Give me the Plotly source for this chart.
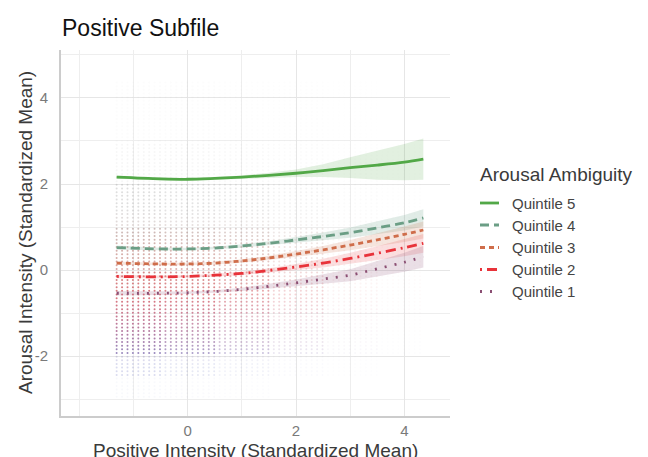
import numpy as np
import plotly.graph_objects as go

# ---------------------------------------------------------------------------
# Fitted curves: predicted arousal intensity by positive intensity,
# one curve per arousal-ambiguity quintile, with 95% CI half-widths.
# ---------------------------------------------------------------------------
fit_x = [-1.31, -0.5, 0.0, 0.5, 1.0, 1.5, 2.0, 2.5, 3.0, 3.5, 4.0, 4.35]

q5_fit = [2.16, 2.12, 2.11, 2.13, 2.16, 2.20, 2.25, 2.31, 2.38, 2.44, 2.51, 2.58]
q4_fit = [0.52, 0.49, 0.49, 0.51, 0.56, 0.62, 0.70, 0.78, 0.87, 0.98, 1.10, 1.21]
q3_fit = [0.16, 0.14, 0.14, 0.16, 0.21, 0.28, 0.37, 0.47, 0.58, 0.70, 0.83, 0.93]
q2_fit = [-0.15, -0.16, -0.15, -0.12, -0.08, -0.01, 0.07, 0.16, 0.27, 0.39, 0.52, 0.62]
q1_fit = [-0.54, -0.54, -0.53, -0.50, -0.45, -0.38, -0.30, -0.21, -0.12, 0.03, 0.18, 0.31]

q5_ci = [0.04, 0.03, 0.03, 0.03, 0.04, 0.06, 0.09, 0.15, 0.24, 0.34, 0.42, 0.48]
q4_ci = [0.05, 0.03, 0.03, 0.03, 0.04, 0.05, 0.07, 0.09, 0.12, 0.15, 0.18, 0.20]
q3_ci = [0.04, 0.03, 0.03, 0.03, 0.04, 0.05, 0.07, 0.09, 0.12, 0.15, 0.18, 0.20]
q2_ci = [0.04, 0.03, 0.03, 0.03, 0.04, 0.05, 0.07, 0.10, 0.13, 0.16, 0.20, 0.22]
q1_ci = [0.05, 0.04, 0.03, 0.03, 0.04, 0.06, 0.08, 0.11, 0.14, 0.18, 0.22, 0.25]

quintile_labels = ["Quintile 5", "Quintile 4", "Quintile 3", "Quintile 2", "Quintile 1"]
quintile_fits = [q5_fit, q4_fit, q3_fit, q2_fit, q1_fit]
quintile_cis = [q5_ci, q4_ci, q3_ci, q2_ci, q1_ci]
quintile_colors = ["#52a847", "#6b9e85", "#cf6d4a", "#e8333a", "#8b4f73"]
quintile_fills = ["rgba(82,168,71,0.17)", "rgba(107,158,133,0.20)",
                  "rgba(207,109,74,0.18)", "rgba(232,51,58,0.16)",
                  "rgba(139,79,115,0.18)"]
quintile_dashes = ["solid", "9px,5px", "5px,4px", "2px,5px,10px,5px", "2px,8px"]

# ---------------------------------------------------------------------------
# Raw observations: responses sit on a discrete lattice of scale values.
# Density (drawn as point opacity) per region of the lattice.
# ---------------------------------------------------------------------------
obs_x_levels = [round(-1.31 + 0.1 * i, 2) for i in range(57)]
obs_y_levels = [round(-2.95 + 0.085 * j, 3) for j in range(87)]

density_x_edges = [-1.5, -0.5, 0.5, 1.5, 2.5, 3.5, 4.5]
density_y_edges = [-3.0, -2.5, -2.0, -1.0, 0.0, 1.0, 2.0, 3.0, 4.5]
# rows: y bins from bottom to top; columns: x bins from left to right
density_alpha = [
    [0.04, 0.03, 0.02, 0.00, 0.00, 0.00],
    [0.22, 0.14, 0.08, 0.03, 0.01, 0.00],
    [0.68, 0.55, 0.34, 0.14, 0.04, 0.01],
    [0.68, 0.62, 0.46, 0.22, 0.06, 0.02],
    [0.52, 0.46, 0.36, 0.18, 0.05, 0.02],
    [0.30, 0.26, 0.20, 0.11, 0.04, 0.02],
    [0.08, 0.07, 0.06, 0.04, 0.02, 0.01],
    [0.03, 0.03, 0.02, 0.02, 0.01, 0.00],
]

# point hue varies with the response level
hue_stops_y = [-2.2, -1.4, -0.6, 0.4, 1.4]
hue_stops_rgb = [(80, 90, 180), (150, 60, 115), (205, 55, 65), (175, 100, 90), (145, 145, 145)]


def bin_index(v, edges):
    for k in range(len(edges) - 1):
        if edges[k] <= v < edges[k + 1]:
            return k
    return None


def hue_for(y):
    if y <= hue_stops_y[0]:
        return hue_stops_rgb[0]
    if y >= hue_stops_y[-1]:
        return hue_stops_rgb[-1]
    for k in range(len(hue_stops_y) - 1):
        if hue_stops_y[k] <= y <= hue_stops_y[k + 1]:
            t = (y - hue_stops_y[k]) / (hue_stops_y[k + 1] - hue_stops_y[k])
            a, b = hue_stops_rgb[k], hue_stops_rgb[k + 1]
            return tuple(int(round(a[c] + (b[c] - a[c]) * t)) for c in range(3))


pts_x, pts_y, pts_c = [], [], []
for xv in obs_x_levels:
    bx = bin_index(xv, density_x_edges)
    for yv in obs_y_levels:
        by = bin_index(yv, density_y_edges)
        if bx is None or by is None:
            continue
        alpha = density_alpha[by][bx]
        if alpha <= 0:
            continue
        r, g, b = hue_for(yv)
        pts_x.append(xv)
        pts_y.append(yv)
        pts_c.append(f"rgba({r},{g},{b},{alpha})")

fig = go.Figure()

fig.add_trace(go.Scatter(
    x=pts_x, y=pts_y, mode="markers",
    marker=dict(size=2, color=pts_c, line=dict(width=0)),
    hoverinfo="skip", showlegend=False,
))

# confidence ribbons
for fit, ci, fill in zip(quintile_fits, quintile_cis, quintile_fills):
    upper = [f + c for f, c in zip(fit, ci)]
    lower = [f - c for f, c in zip(fit, ci)]
    fig.add_trace(go.Scatter(
        x=fit_x + fit_x[::-1], y=upper + lower[::-1],
        fill="toself", fillcolor=fill, mode="lines",
        line=dict(width=0), hoverinfo="skip", showlegend=False,
    ))

# fitted lines
for name, fit, col, dash in zip(quintile_labels, quintile_fits, quintile_colors, quintile_dashes):
    fig.add_trace(go.Scatter(
        x=fit_x, y=fit, mode="lines", name=name,
        line=dict(color=col, width=2.8, dash=dash, shape="spline"),
        showlegend=False,
    ))

# ---------------------------------------------------------------------------
# Layout
# ---------------------------------------------------------------------------
W, H = 648, 457
ML, MR, MT, MB = 61, 198, 50, 41
PW, PH = W - ML - MR, H - MT - MB


def px_x(p):
    return (p - ML) / PW


def px_y(p):
    return (H - MB - p) / PH


FONT = "Liberation Sans, Arial, sans-serif"
GRID_MAJOR = "#e6e6e6"
GRID_MINOR = "#eeeeee"

fig.update_layout(
    width=W, height=H,
    margin=dict(l=ML, r=MR, t=MT, b=MB, pad=0),
    plot_bgcolor="white", paper_bgcolor="white",
    font=dict(family=FONT),
    showlegend=False,
    title=dict(text="Positive Subfile", x=62 / W, xanchor="left",
               y=1 - 28 / H, yanchor="middle",
               font=dict(size=23, color="#111111", family=FONT)),
    xaxis=dict(
        range=[-2.337, 4.842], tickvals=[0, 2, 4], ticktext=["0", "2", "4"],
        showgrid=True, gridcolor=GRID_MAJOR, gridwidth=1.2,
        minor=dict(tickvals=[-2, -1, 1, 3], showgrid=True, gridcolor=GRID_MINOR, gridwidth=1),
        zeroline=False, showline=True, linecolor="#cccccc", linewidth=1.6,
        ticks="", tickfont=dict(size=15, color="#7a7a7a"), ticklabelstandoff=0,
    ),
    yaxis=dict(
        range=[-3.395, 5.116], tickvals=[-2, 0, 2, 4], ticktext=["-2", "0", "2", "4"],
        showgrid=True, gridcolor=GRID_MAJOR, gridwidth=1.2,
        minor=dict(tickvals=[-3, -1, 1, 3, 5], showgrid=True, gridcolor=GRID_MINOR, gridwidth=1),
        zeroline=False, showline=True, linecolor="#cccccc", linewidth=1.6,
        ticks="", tickfont=dict(size=15, color="#7a7a7a"), ticklabelstandoff=8,
    ),
)

annotations = [
    dict(text="Positive Intensity (Standardized Mean)", xref="paper", yref="paper",
         x=0.5, y=px_y(450), xanchor="center", yanchor="middle", showarrow=False,
         font=dict(size=19, color="#3a3a3a", family=FONT)),
    dict(text="Arousal Intensity (Standardized Mean)", xref="paper", yref="paper",
         x=px_x(25), y=0.5, xanchor="center", yanchor="middle", textangle=-90,
         showarrow=False, font=dict(size=19, color="#3a3a3a", family=FONT)),
    dict(text="Arousal Ambiguity", xref="paper", yref="paper",
         x=px_x(478), y=px_y(174), xanchor="left", yanchor="middle", showarrow=False,
         font=dict(size=19, color="#3a3a3a", family=FONT)),
]

shapes = []
legend_rows = [203, 225, 247.5, 269.5, 291.5]
for name, col, dash, row in zip(quintile_labels, quintile_colors, quintile_dashes, legend_rows):
    shapes.append(dict(type="line", xref="paper", yref="paper",
                       x0=px_x(480), x1=px_x(499), y0=px_y(row), y1=px_y(row),
                       line=dict(color=col, width=2.8, dash=dash)))
    annotations.append(dict(text=name, xref="paper", yref="paper",
                            x=px_x(510), y=px_y(row), xanchor="left", yanchor="middle",
                            showarrow=False,
                            font=dict(size=15, color="#444444", family=FONT)))

fig.update_layout(annotations=annotations, shapes=shapes)

fig.write_html("out.html")
